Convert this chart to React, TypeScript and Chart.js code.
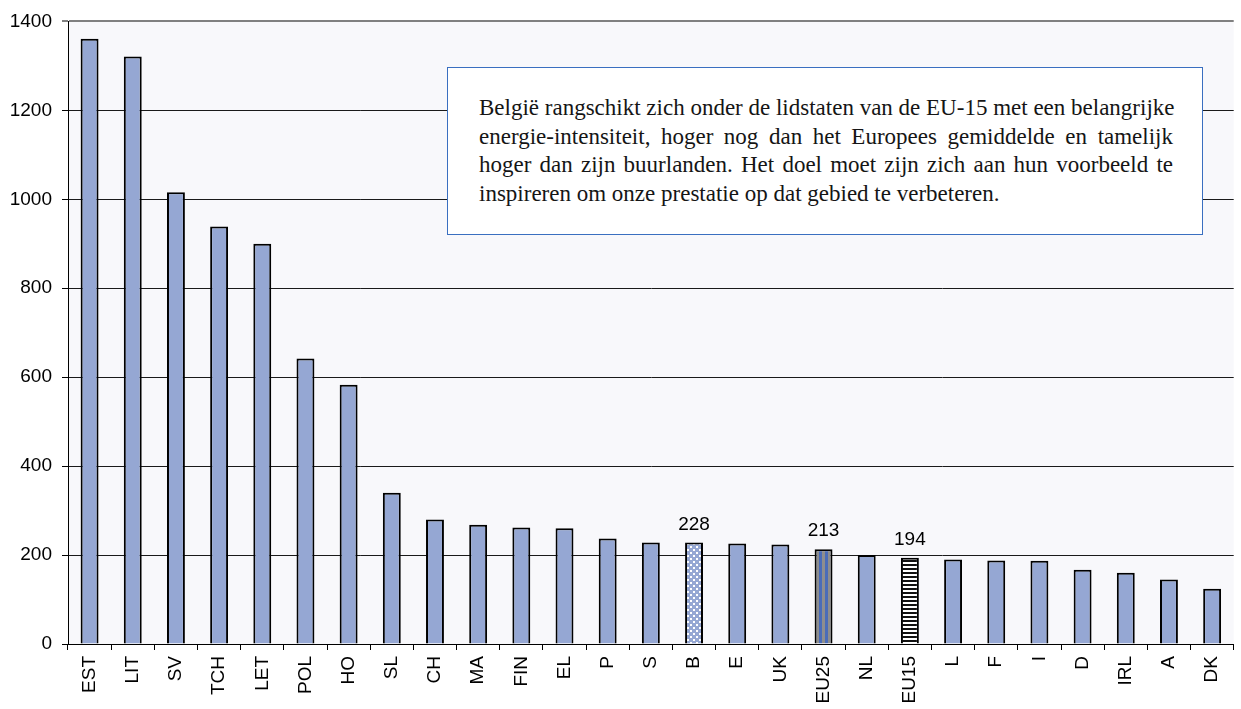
import React, { useEffect, useRef } from "react";
import { Chart, registerables } from "chart.js";

Chart.register(...registerables);

const categories = ["EST", "LIT", "SV", "TCH", "LET", "POL", "HO", "SL", "CH", "MA", "FIN", "EL", "P", "S", "B", "E", "UK", "EU25", "NL", "EU15", "L", "F", "I", "D", "IRL", "A", "DK"];
const values = [1361, 1321, 1016, 939, 900, 642, 583, 340, 280, 268, 262, 260, 237, 228, 228, 226, 224, 213, 200, 194, 190, 188, 187, 167, 160, 145, 124];
const labelledCategories = ["B", "EU25", "EU15"];
const yMin = 0;
const yMax = 1400;
const yStep = 200;
const noteLines = [
  "België rangschikt zich onder de lidstaten van de EU-15 met een belangrijke",
  "energie-intensiteit, hoger nog dan het Europees gemiddelde en tamelijk",
  "hoger dan zijn buurlanden. Het doel moet zijn zich aan hun voorbeeld te",
  "inspireren om onze prestatie op dat gebied te verbeteren.",
];

const BAR_BLUE = "#95a7d3";
const SANS = '"Liberation Sans", Arial, sans-serif';

function makePattern(kind: string): CanvasPattern | string {
  const c = document.createElement("canvas");
  const g = c.getContext("2d");
  if (!g) return BAR_BLUE;
  if (kind === "dots") {
    c.width = 6; c.height = 6;
    g.fillStyle = BAR_BLUE; g.fillRect(0, 0, 6, 6);
    g.fillStyle = "#ffffff";
    g.fillRect(0, 0, 2, 2);
    g.fillRect(3, 3, 2, 2);
  } else if (kind === "vstripes") {
    c.width = 6; c.height = 6;
    g.fillStyle = "#8e8e8e"; g.fillRect(0, 0, 3, 6);
    g.fillStyle = "#4a6cb8"; g.fillRect(3, 0, 3, 6);
  } else {
    c.width = 4; c.height = 4;
    g.fillStyle = "#ffffff"; g.fillRect(0, 0, 4, 4);
    g.fillStyle = "#111111"; g.fillRect(0, 0, 4, 2);
  }
  const p = g.createPattern(c, "repeat");
  return p || BAR_BLUE;
}

const bgPlugin = {
  id: "plotBg",
  beforeDraw(chart: any) {
    const { ctx, chartArea } = chart;
    ctx.save();
    ctx.fillStyle = "#ffffff";
    ctx.fillRect(0, 0, chart.width, chart.height);
    ctx.fillStyle = "#f8f8fb";
    ctx.fillRect(chartArea.left, chartArea.top, chartArea.right - chartArea.left, chartArea.bottom - chartArea.top);
    ctx.restore();
  },
};

const valueLabelPlugin = {
  id: "valueLabels",
  afterDatasetsDraw(chart: any) {
    const { ctx } = chart;
    const meta = chart.getDatasetMeta(0);
    ctx.save();
    ctx.font = `19px ${SANS}`;
    ctx.fillStyle = "#000";
    ctx.textAlign = "center";
    ctx.textBaseline = "alphabetic";
    labelledCategories.forEach((cat) => {
      const i = categories.indexOf(cat);
      const el = meta.data[i];
      if (el) ctx.fillText(String(values[i]), el.x, el.y - 13);
    });
    ctx.restore();
  },
};

export default function App() {
  const ref = useRef<HTMLCanvasElement | null>(null);

  useEffect(() => {
    if (!ref.current) return;
    const fills = categories.map((c) =>
      c === "B" ? makePattern("dots") : c === "EU25" ? makePattern("vstripes") : c === "EU15" ? makePattern("hstripes") : BAR_BLUE
    );
    const chart = new Chart(ref.current, {
      type: "bar",
      data: {
        labels: categories,
        datasets: [
          {
            data: values,
            backgroundColor: fills as any,
            borderColor: "#000000",
            borderWidth: 2,
            barPercentage: 0.415,
            categoryPercentage: 1,
          },
        ],
      },
      options: {
        animation: false,
        responsive: false,
        maintainAspectRatio: false,
        layout: { autoPadding: false, padding: { top: 20, right: 4, left: 0, bottom: 0 } },
        plugins: { legend: { display: false }, tooltip: { enabled: false }, title: { display: false } },
        scales: {
          x: {
            grid: { offset: true, drawOnChartArea: false, drawTicks: true, tickLength: 6, tickColor: "#000", color: "#000" },
            border: { display: true, color: "#000", width: 1 },
            ticks: { autoSkip: false, minRotation: 90, maxRotation: 90, padding: 6, color: "#000", font: { family: SANS, size: 19 } },
            afterFit(scale: any) { scale.height = 65; },
          },
          y: {
            min: yMin,
            max: yMax,
            ticks: {
              stepSize: yStep,
              padding: 10,
              color: "#000",
              font: { family: SANS, size: 19 },
              callback: (v: any) => String(v),
            },
            grid: {
              drawTicks: true,
              tickLength: 6,
              color: (c: any) => (c.tick && c.tick.value === yMax ? "#808080" : "#1a1a1a"),
              lineWidth: (c: any) => (c.tick && c.tick.value === yMax ? 2 : 1),
              tickColor: (c: any) => (c.tick && c.tick.value === yMax ? "#808080" : "#000"),
            },
            border: { display: true, color: "#000", width: 1 },
            afterFit(scale: any) { scale.width = 68; },
          },
        },
      },
      plugins: [bgPlugin, valueLabelPlugin],
    });
    return () => chart.destroy();
  }, []);

  return (
    <div style={{ position: "fixed", left: 0, top: 0, width: 1241, height: 709, background: "#fff", overflow: "hidden" }}>
      <canvas ref={ref} width={1241} height={709} style={{ position: "absolute", left: 0, top: 0, width: 1241, height: 709 }} />
      <div
        style={{
          position: "absolute",
          left: 447,
          top: 67,
          width: 756,
          height: 168,
          boxSizing: "border-box",
          border: "1px solid #3a6fc0",
          background: "#ffffff",
          padding: "26px 29px 0 31px",
          fontFamily: '"Liberation Serif", "Times New Roman", serif',
          fontSize: 23,
          lineHeight: "28.5px",
          color: "#151515",
        }}
      >
        {noteLines.map((line, i) => (
          <div
            key={i}
            style={{
              whiteSpace: "nowrap",
              textAlign: i === noteLines.length - 1 ? "left" : "justify",
              textAlignLast: i === noteLines.length - 1 ? "left" : "justify",
            } as any}
          >
            {line}
          </div>
        ))}
      </div>
    </div>
  );
}
